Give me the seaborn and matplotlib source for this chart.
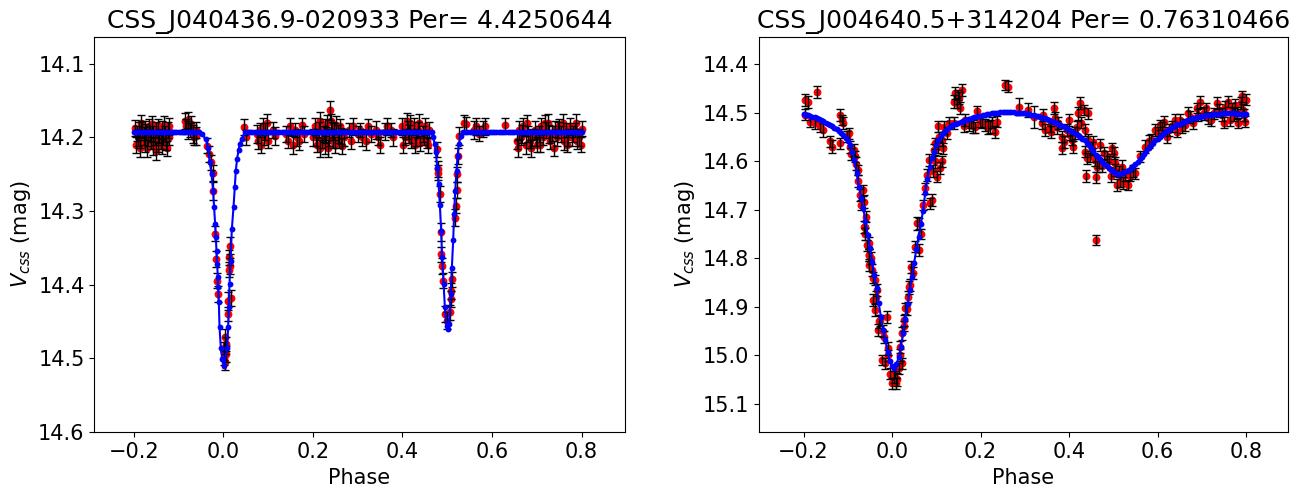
import numpy as np
import pandas as pd
import matplotlib
matplotlib.use("Agg")
import matplotlib.pyplot as plt
import seaborn as sns

# %%
# left star: CSS_J040436.9-020933 (detached eclipsing binary)

title1 = "CSS_J040436.9-020933 Per= 4.4250644"

phase1 = [
    -0.197, -0.193, -0.190, -0.188, -0.185, -0.182, -0.178, -0.175, -0.172, -0.168,
    -0.165, -0.162, -0.158, -0.156, -0.153, -0.150, -0.147, -0.144, -0.140, -0.137,
    -0.134, -0.130, -0.127, -0.124, -0.121,
    -0.086, -0.083, -0.080, -0.078, -0.075, -0.072, -0.068, -0.065, -0.062, -0.060,
    -0.0375, -0.032, -0.028, -0.024, -0.023, -0.0175, -0.017, -0.014, -0.0116,
    0.003, 0.0056, 0.002, 0.005, 0.001, 0.004,
    0.0145, 0.0123, 0.0145, 0.0123, 0.018, 0.011, 0.0107,
    0.047, 0.050, 0.075, 0.078, 0.082, 0.085, 0.088, 0.090, 0.093, 0.097,
    0.100, 0.112, 0.115, 0.140, 0.145, 0.150, 0.155, 0.160, 0.165, 0.170,
    0.175, 0.180, 0.200, 0.205, 0.210, 0.213, 0.217, 0.220, 0.224, 0.228,
    0.232, 0.236, 0.238, 0.242, 0.245, 0.250, 0.255, 0.260, 0.265, 0.270,
    0.280, 0.285, 0.290, 0.300, 0.305, 0.310, 0.318, 0.322, 0.330, 0.340,
    0.345, 0.350, 0.360, 0.365, 0.375, 0.378, 0.400, 0.405, 0.410, 0.415,
    0.420, 0.425, 0.430, 0.435, 0.440, 0.445, 0.450, 0.455, 0.460,
    0.4776, 0.480, 0.4805, 0.4836, 0.486, 0.487, 0.4888, 0.491, 0.4948, 0.4986,
    0.506, 0.5075, 0.5097, 0.508, 0.517, 0.5193, 0.521, 0.522, 0.523, 0.5254,
    0.538, 0.542, 0.560, 0.565, 0.570, 0.580, 0.585, 0.630, 0.655, 0.660,
    0.665, 0.670, 0.675, 0.680, 0.685, 0.690, 0.695, 0.700, 0.705, 0.710,
    0.715, 0.720, 0.725, 0.730, 0.735, 0.740, 0.745, 0.750, 0.755, 0.760,
    0.765, 0.770, 0.775, 0.780, 0.785, 0.790, 0.795, 0.800,
    -0.195, -0.187, -0.183, -0.176, -0.170, -0.163, -0.159, -0.151, -0.145, -0.138,
    -0.132, -0.126, -0.122,
    0.208, 0.215, 0.226, 0.230, 0.234, 0.240, 0.248, 0.252, 0.258, 0.262,
    0.402, 0.412, 0.418, 0.428, 0.438, 0.448, 0.458,
    0.658, 0.668, 0.678, 0.688, 0.698, 0.708, 0.718, 0.728, 0.738, 0.748,
    0.758, 0.768, 0.778, 0.788, 0.798,
]
mag1 = [
    14.187, 14.195, 14.200, 14.190, 14.205, 14.188, 14.198, 14.210, 14.193, 14.200,
    14.185, 14.205, 14.212, 14.195, 14.200, 14.190, 14.208, 14.198, 14.205, 14.190,
    14.200, 14.195, 14.205, 14.190, 14.200,
    14.178, 14.185, 14.190, 14.176, 14.190, 14.182, 14.195, 14.200, 14.190, 14.198,
    14.211, 14.222, 14.234, 14.248, 14.273, 14.331, 14.365, 14.395, 14.413,
    14.472, 14.481, 14.490, 14.495, 14.500, 14.505,
    14.347, 14.363, 14.375, 14.380, 14.418, 14.422, 14.440,
    14.186, 14.200, 14.195, 14.205, 14.190, 14.210, 14.185, 14.200, 14.192, 14.180,
    14.205, 14.190, 14.198, 14.195, 14.205, 14.185, 14.210, 14.190, 14.200, 14.205,
    14.183, 14.195, 14.200, 14.185, 14.210, 14.190, 14.178, 14.205, 14.195, 14.210,
    14.180, 14.200, 14.163, 14.190, 14.205, 14.210, 14.195, 14.185, 14.212, 14.200,
    14.190, 14.205, 14.185, 14.195, 14.190, 14.200, 14.205, 14.185, 14.195, 14.190,
    14.200, 14.210, 14.192, 14.185, 14.190, 14.200, 14.185, 14.200, 14.178, 14.195,
    14.205, 14.185, 14.200, 14.190, 14.208, 14.195, 14.185, 14.205, 14.190,
    14.216, 14.243, 14.248, 14.277, 14.329, 14.359, 14.375, 14.395, 14.440, 14.449,
    14.438, 14.409, 14.393, 14.420, 14.309, 14.293, 14.272, 14.250, 14.225, 14.198,
    14.180, 14.182, 14.190, 14.185, 14.195, 14.188, 14.185, 14.183, 14.205, 14.190,
    14.200, 14.185, 14.210, 14.195, 14.205, 14.200, 14.190, 14.210, 14.195, 14.185,
    14.200, 14.190, 14.180, 14.205, 14.195, 14.188, 14.200, 14.185, 14.195, 14.205,
    14.190, 14.200, 14.185, 14.195, 14.190, 14.205, 14.200, 14.188,
    14.210, 14.215, 14.180, 14.188, 14.215, 14.195, 14.182, 14.218, 14.185, 14.212,
    14.183, 14.215, 14.185,
    14.200, 14.215, 14.185, 14.197, 14.215, 14.178, 14.192, 14.183, 14.205, 14.198,
    14.210, 14.190, 14.180, 14.210, 14.180, 14.200, 14.210,
    14.215, 14.195, 14.180, 14.215, 14.200, 14.210, 14.180, 14.195, 14.215, 14.190,
    14.180, 14.210, 14.200, 14.180, 14.210,
]
err1 = [
    0.011, 0.010, 0.012, 0.011, 0.010, 0.011, 0.012, 0.010, 0.011, 0.012,
    0.010, 0.011, 0.012, 0.011, 0.010, 0.011, 0.012, 0.010, 0.011, 0.012,
    0.010, 0.011, 0.012, 0.011, 0.010,
    0.011, 0.010, 0.012, 0.011, 0.010, 0.011, 0.012, 0.010, 0.011, 0.012,
    0.010, 0.011, 0.010, 0.011, 0.012, 0.010, 0.011, 0.010, 0.011,
    0.011, 0.010, 0.012, 0.011, 0.010, 0.011,
    0.012, 0.010, 0.011, 0.010, 0.011, 0.012, 0.010,
    0.011, 0.010, 0.012, 0.011, 0.010, 0.011, 0.012, 0.010, 0.011, 0.012,
    0.010, 0.011, 0.012, 0.011, 0.010, 0.011, 0.012, 0.010, 0.011, 0.012,
    0.010, 0.011, 0.012, 0.011, 0.010, 0.011, 0.012, 0.010, 0.011, 0.012,
    0.010, 0.011, 0.013, 0.011, 0.010, 0.011, 0.012, 0.010, 0.011, 0.012,
    0.010, 0.011, 0.012, 0.011, 0.010, 0.011, 0.012, 0.010, 0.011, 0.012,
    0.010, 0.011, 0.012, 0.011, 0.010, 0.011, 0.012, 0.010, 0.011, 0.012,
    0.010, 0.011, 0.012, 0.011, 0.010, 0.011, 0.012, 0.010, 0.011,
    0.010, 0.011, 0.010, 0.011, 0.012, 0.010, 0.011, 0.010, 0.011, 0.012,
    0.010, 0.011, 0.010, 0.011, 0.012, 0.010, 0.011, 0.010, 0.011, 0.012,
    0.011, 0.010, 0.012, 0.011, 0.010, 0.011, 0.012, 0.010, 0.011, 0.012,
    0.010, 0.011, 0.012, 0.011, 0.010, 0.011, 0.012, 0.010, 0.011, 0.012,
    0.010, 0.011, 0.012, 0.011, 0.010, 0.011, 0.012, 0.010, 0.011, 0.012,
    0.010, 0.011, 0.012, 0.011, 0.010, 0.011, 0.012, 0.010,
    0.011, 0.012, 0.010, 0.011, 0.012, 0.010, 0.011, 0.012, 0.010, 0.011,
    0.012, 0.010, 0.011,
    0.011, 0.012, 0.010, 0.011, 0.012, 0.010, 0.011, 0.012, 0.010, 0.011,
    0.011, 0.012, 0.010, 0.011, 0.012, 0.010, 0.011,
    0.011, 0.012, 0.010, 0.011, 0.012, 0.010, 0.011, 0.012, 0.010, 0.011,
    0.012, 0.010, 0.011, 0.012, 0.010,
]

# model light curve: flat out of eclipse, sampled densely inside the eclipses
model1_base = 14.193
model1_flat_phase = [
    -0.200, -0.195, -0.190, -0.185, -0.180, -0.175, -0.170, -0.165, -0.160, -0.155,
    -0.150, -0.145, -0.140, -0.135, -0.130, -0.125, -0.120, -0.115, -0.110, -0.105,
    -0.100, -0.095, -0.090, -0.085, -0.080, -0.075, -0.070, -0.065, -0.060, -0.055,
    0.055, 0.060, 0.065, 0.070, 0.075, 0.080, 0.085, 0.090, 0.095, 0.100,
    0.105, 0.110, 0.115, 0.120, 0.125, 0.130, 0.135, 0.140, 0.145, 0.150,
    0.155, 0.160, 0.165, 0.170, 0.175, 0.180, 0.185, 0.190, 0.195, 0.200,
    0.205, 0.210, 0.215, 0.220, 0.225, 0.230, 0.235, 0.240, 0.245, 0.250,
    0.255, 0.260, 0.265, 0.270, 0.275, 0.280, 0.285, 0.290, 0.295, 0.300,
    0.305, 0.310, 0.315, 0.320, 0.325, 0.330, 0.335, 0.340, 0.345, 0.350,
    0.355, 0.360, 0.365, 0.370, 0.375, 0.380, 0.385, 0.390, 0.395, 0.400,
    0.405, 0.410, 0.415, 0.420, 0.425, 0.430, 0.435, 0.440, 0.445, 0.450,
    0.455, 0.460,
    0.540, 0.545, 0.550, 0.555, 0.560, 0.565, 0.570, 0.575, 0.580, 0.585,
    0.590, 0.595, 0.600, 0.605, 0.610, 0.615, 0.620, 0.625, 0.630, 0.635,
    0.640, 0.645, 0.650, 0.655, 0.660, 0.665, 0.670, 0.675, 0.680, 0.685,
    0.690, 0.695, 0.700, 0.705, 0.710, 0.715, 0.720, 0.725, 0.730, 0.735,
    0.740, 0.745, 0.750, 0.755, 0.760, 0.765, 0.770, 0.775, 0.780, 0.785,
    0.790, 0.795, 0.800,
]
model1_dip_phase = [
    -0.0487, -0.0391, -0.034, -0.0302, -0.0264, -0.0228, -0.0205, -0.0183, -0.0168, -0.0152,
    -0.0138, -0.0123, -0.0116, -0.0101, -0.0085, -0.0056, -0.0027, 0.0018, 0.0085, 0.0107,
    0.0123, 0.0138, 0.0161, 0.019, 0.0228, 0.0257, 0.0279, 0.0308, 0.034, 0.0369,
    0.0407, 0.048,
    0.465, 0.4686, 0.4724, 0.4747, 0.4776, 0.4807, 0.4836, 0.4865, 0.4887, 0.4918,
    0.4948, 0.4985, 0.5008, 0.5044, 0.5075, 0.5104, 0.5133, 0.5155, 0.5178, 0.5209,
    0.5231, 0.526, 0.5298, 0.5356,
]
model1_dip_mag = [
    14.195, 14.202, 14.214, 14.234, 14.250, 14.273, 14.295, 14.318, 14.336, 14.354,
    14.372, 14.390, 14.404, 14.424, 14.458, 14.486, 14.501, 14.511, 14.486, 14.458,
    14.431, 14.399, 14.368, 14.325, 14.294, 14.267, 14.245, 14.229, 14.217, 14.209,
    14.202, 14.193,
    14.193, 14.200, 14.209, 14.220, 14.241, 14.263, 14.292, 14.327, 14.363, 14.399,
    14.431, 14.456, 14.461, 14.454, 14.413, 14.377, 14.340, 14.304, 14.273, 14.245,
    14.225, 14.209, 14.198, 14.193,
]

# %%
# right star: CSS_J004640.5+314204 (contact binary)

title2 = "CSS_J004640.5+314204 Per= 0.76310466"

phase2 = [
    -0.196, -0.189, -0.170, -0.196, -0.185, -0.174, -0.162, -0.155, -0.140, -0.136,
    -0.117, -0.113, -0.110, -0.117, -0.102, -0.098, -0.094, -0.087, -0.083, -0.076,
    -0.072, -0.064, -0.064, -0.058, -0.053, -0.051,
    -0.061, -0.057, -0.053, -0.053, -0.045, -0.038, -0.034, -0.042, -0.038, -0.027,
    -0.012, -0.031, -0.019, -0.023, -0.015, -0.008, -0.004, 0.000, 0.009, 0.007,
    0.015, 0.022, 0.017, 0.022, 0.026, 0.030, 0.035, 0.041, 0.043, 0.052, 0.060,
    0.056, 0.060, 0.071, 0.075, 0.079, 0.083, 0.086, 0.090, 0.094, 0.098,
    0.101, 0.105, 0.109, 0.113, 0.116, 0.124, 0.139, 0.143, 0.150, 0.158,
    0.154, 0.139, 0.162, 0.173, 0.184, 0.192, 0.199, 0.211, 0.222, 0.233,
    0.237, 0.256, 0.263, 0.286, 0.308, 0.320, 0.342, 0.339, 0.346, 0.358,
    0.365, 0.369, 0.376, 0.384, 0.384, 0.395, 0.399, 0.407, 0.414, 0.421,
    0.425, 0.433, 0.444, 0.437, 0.444, 0.437, 0.440, 0.452, 0.459, 0.463,
    0.439, 0.461, 0.470, 0.478, 0.486, 0.497, 0.501, 0.504, 0.504, 0.512,
    0.508, 0.520, 0.527, 0.534, 0.550, 0.580, 0.595, 0.606, 0.614, 0.621,
    0.633, 0.644, 0.651, 0.663, 0.674, 0.689, 0.697, 0.704, 0.715, 0.727,
    0.734, 0.746, 0.753, 0.760, 0.764, 0.772, 0.776, 0.783, 0.791, 0.794,
    0.798, 0.800, 0.461,
    -0.092, -0.081, -0.077, -0.069, -0.066, -0.060, -0.047, -0.044, -0.036, -0.029,
    -0.021, -0.010, 0.004, 0.012, 0.019, 0.028, 0.033, 0.038, 0.047, 0.065,
    0.092, 0.097, 0.103, 0.107, 0.112, 0.118, 0.128, 0.146, 0.152, 0.166,
    0.178, 0.188, 0.204, 0.216, 0.226,
    0.360, 0.372, 0.388, 0.403, 0.410, 0.418, 0.428, 0.448, 0.455, 0.468,
    0.475, 0.490, 0.494, 0.515, 0.523, 0.538, 0.545,
    0.560, 0.572, 0.585, 0.600, 0.610, 0.625, 0.640, 0.655, 0.668, 0.680,
    0.692, 0.710, 0.720, 0.738, 0.750, 0.768, 0.780, 0.788, 0.796,
]
mag2 = [
    14.473, 14.477, 14.457, 14.504, 14.518, 14.521, 14.528, 14.535, 14.559, 14.570,
    14.504, 14.515, 14.521, 14.563, 14.549, 14.542, 14.570, 14.577, 14.590, 14.618,
    14.669, 14.683, 14.735, 14.714, 14.769, 14.793,
    14.735, 14.773, 14.793, 14.814, 14.824, 14.845, 14.866, 14.886, 14.907, 14.928,
    14.921, 14.948, 14.962, 15.010, 15.017, 14.986, 15.038, 15.058, 15.058, 15.034,
    15.027, 15.017, 14.983, 14.955, 14.928, 14.903, 14.879, 14.855, 14.818, 14.776, 14.728,
    14.728, 14.783, 14.690, 14.656, 14.628, 14.597, 14.687, 14.680, 14.577, 14.563,
    14.632, 14.528, 14.614, 14.556, 14.573, 14.542, 14.477, 14.459, 14.463, 14.453,
    14.490, 14.521, 14.528, 14.525, 14.528, 14.497, 14.518, 14.525, 14.528, 14.539,
    14.518, 14.442, 14.446, 14.487, 14.494, 14.508, 14.504, 14.521, 14.535, 14.528,
    14.490, 14.511, 14.521, 14.549, 14.573, 14.535, 14.515, 14.556, 14.542, 14.501,
    14.480, 14.494, 14.501, 14.535, 14.556, 14.580, 14.594, 14.573, 14.597, 14.611,
    14.630, 14.633, 14.566, 14.583, 14.590, 14.573, 14.583, 14.604, 14.618, 14.621,
    14.649, 14.611, 14.628, 14.649, 14.625, 14.559, 14.535, 14.525, 14.518, 14.549,
    14.528, 14.539, 14.515, 14.525, 14.508, 14.490, 14.477, 14.501, 14.511, 14.501,
    14.480, 14.504, 14.487, 14.477, 14.515, 14.504, 14.484, 14.521, 14.466, 14.494,
    14.518, 14.473, 14.762,
    14.585, 14.605, 14.640, 14.690, 14.660, 14.750, 14.800, 14.840, 14.880, 14.930,
    14.950, 15.000, 15.045, 15.050, 15.000, 14.940, 14.905, 14.860, 14.830, 14.750,
    14.620, 14.600, 14.570, 14.550, 14.600, 14.530, 14.520, 14.480, 14.470, 14.515,
    14.520, 14.530, 14.520, 14.530, 14.520,
    14.540, 14.530, 14.560, 14.545, 14.570, 14.530, 14.520, 14.590, 14.560, 14.600,
    14.610, 14.600, 14.630, 14.640, 14.645, 14.630, 14.620,
    14.590, 14.570, 14.555, 14.540, 14.530, 14.535, 14.515, 14.530, 14.500, 14.520,
    14.505, 14.490, 14.515, 14.495, 14.520, 14.490, 14.500, 14.480, 14.505,
]
err2 = [
    0.012, 0.012, 0.012, 0.011, 0.012, 0.013, 0.012, 0.014, 0.012, 0.013,
    0.012, 0.011, 0.013, 0.012, 0.012, 0.011, 0.012, 0.013, 0.012, 0.011,
    0.012, 0.013, 0.012, 0.011, 0.012, 0.013,
    0.012, 0.011, 0.012, 0.013, 0.012, 0.011, 0.012, 0.013, 0.012, 0.011,
    0.012, 0.013, 0.012, 0.011, 0.012, 0.013, 0.012, 0.011, 0.012, 0.013,
    0.012, 0.011, 0.012, 0.013, 0.012, 0.011, 0.012, 0.013, 0.012, 0.011, 0.012,
    0.013, 0.012, 0.011, 0.012, 0.013, 0.012, 0.011, 0.012, 0.013, 0.012,
    0.011, 0.012, 0.013, 0.012, 0.011, 0.012, 0.013, 0.012, 0.011, 0.012,
    0.013, 0.012, 0.011, 0.012, 0.013, 0.012, 0.011, 0.012, 0.013, 0.012,
    0.011, 0.010, 0.011, 0.018, 0.014, 0.023, 0.012, 0.013, 0.012, 0.011,
    0.012, 0.013, 0.012, 0.011, 0.012, 0.013, 0.012, 0.011, 0.012, 0.013,
    0.012, 0.011, 0.012, 0.013, 0.012, 0.011, 0.012, 0.013, 0.012, 0.011,
    0.012, 0.011, 0.012, 0.013, 0.012, 0.011, 0.012, 0.013, 0.012, 0.011,
    0.012, 0.013, 0.012, 0.011, 0.012, 0.013, 0.012, 0.011, 0.012, 0.013,
    0.012, 0.011, 0.012, 0.013, 0.012, 0.011, 0.012, 0.013, 0.012, 0.011,
    0.012, 0.013, 0.012, 0.011, 0.012, 0.013, 0.012, 0.011, 0.012, 0.013,
    0.012, 0.011, 0.010,
    0.012, 0.013, 0.012, 0.011, 0.012, 0.013, 0.012, 0.011, 0.012, 0.013,
    0.012, 0.011, 0.012, 0.013, 0.012, 0.011, 0.012, 0.013, 0.012, 0.011,
    0.012, 0.013, 0.012, 0.011, 0.012, 0.013, 0.012, 0.011, 0.012, 0.013,
    0.012, 0.011, 0.012, 0.013, 0.012,
    0.012, 0.013, 0.012, 0.011, 0.012, 0.013, 0.012, 0.011, 0.012, 0.013,
    0.012, 0.011, 0.012, 0.013, 0.012, 0.011, 0.012,
    0.012, 0.013, 0.012, 0.011, 0.012, 0.013, 0.012, 0.011, 0.012, 0.013,
    0.012, 0.011, 0.012, 0.013, 0.012, 0.011, 0.012, 0.013, 0.012,
]

model2_phase = [
    -0.200, -0.195, -0.190, -0.185, -0.180, -0.175, -0.170, -0.165, -0.160, -0.155,
    -0.150, -0.145, -0.140, -0.135, -0.130, -0.125, -0.120, -0.115, -0.110, -0.105,
    -0.100, -0.095, -0.090, -0.085, -0.080, -0.075, -0.070, -0.065, -0.060, -0.055,
    -0.050, -0.045, -0.040, -0.035, -0.030, -0.025, -0.020, -0.015, -0.010, -0.005,
    0.000, 0.005, 0.010, 0.015, 0.020, 0.025, 0.030, 0.035, 0.040, 0.045,
    0.050, 0.055, 0.060, 0.065, 0.070, 0.075, 0.080, 0.085, 0.090, 0.095,
    0.100, 0.105, 0.110, 0.115, 0.120, 0.125, 0.130, 0.135, 0.140, 0.145,
    0.150, 0.155, 0.160, 0.165, 0.170, 0.175, 0.180, 0.185, 0.190, 0.195,
    0.200, 0.205, 0.210, 0.215, 0.220, 0.225, 0.230, 0.235, 0.240, 0.245,
    0.250, 0.255, 0.260, 0.265, 0.270, 0.275, 0.280, 0.285, 0.290, 0.295,
    0.300, 0.305, 0.310, 0.315, 0.320, 0.325, 0.330, 0.335, 0.340, 0.345,
    0.350, 0.355, 0.360, 0.365, 0.370, 0.375, 0.380, 0.385, 0.390, 0.395,
    0.400, 0.405, 0.410, 0.415, 0.420, 0.425, 0.430, 0.435, 0.440, 0.445,
    0.450, 0.455, 0.460, 0.465, 0.470, 0.475, 0.480, 0.485, 0.490, 0.495,
    0.500, 0.505, 0.510, 0.515, 0.520, 0.525, 0.530, 0.535, 0.540, 0.545,
    0.550, 0.555, 0.560, 0.565, 0.570, 0.575, 0.580, 0.585, 0.590, 0.595,
    0.600, 0.605, 0.610, 0.615, 0.620, 0.625, 0.630, 0.635, 0.640, 0.645,
    0.650, 0.655, 0.660, 0.665, 0.670, 0.675, 0.680, 0.685, 0.690, 0.695,
    0.700, 0.705, 0.710, 0.715, 0.720, 0.725, 0.730, 0.735, 0.740, 0.745,
    0.750, 0.755, 0.760, 0.765, 0.770, 0.775, 0.780, 0.785, 0.790, 0.795,
    0.800,
]
model2_mag = [
    14.503, 14.504, 14.505, 14.506, 14.508, 14.509, 14.511, 14.513, 14.515, 14.517,
    14.520, 14.522, 14.525, 14.528, 14.531, 14.534, 14.538, 14.542, 14.546, 14.552,
    14.558, 14.566, 14.580, 14.598, 14.625, 14.652, 14.675, 14.697, 14.724, 14.753,
    14.778, 14.807, 14.835, 14.861, 14.893, 14.922, 14.948, 14.969, 14.993, 15.011,
    15.023, 15.026, 15.019, 15.004, 14.984, 14.954, 14.925, 14.894, 14.866, 14.838,
    14.809, 14.781, 14.756, 14.730, 14.702, 14.666, 14.636, 14.612, 14.594, 14.580,
    14.567, 14.557, 14.548, 14.542, 14.537, 14.533, 14.529, 14.526, 14.524, 14.522,
    14.520, 14.518, 14.517, 14.515, 14.514, 14.512, 14.511, 14.509, 14.508, 14.507,
    14.506, 14.505, 14.504, 14.503, 14.502, 14.501, 14.501, 14.500, 14.500, 14.499,
    14.499, 14.499, 14.499, 14.499, 14.499, 14.499, 14.500, 14.500, 14.500, 14.501,
    14.501, 14.502, 14.503, 14.504, 14.505, 14.506, 14.507, 14.508, 14.510, 14.511,
    14.513, 14.514, 14.516, 14.518, 14.520, 14.522, 14.525, 14.527, 14.530, 14.532,
    14.535, 14.537, 14.540, 14.543, 14.546, 14.549, 14.553, 14.557, 14.562, 14.567,
    14.572, 14.579, 14.586, 14.591, 14.596, 14.601, 14.606, 14.610, 14.614, 14.618,
    14.621, 14.624, 14.626, 14.626, 14.625, 14.623, 14.621, 14.618, 14.614, 14.610,
    14.606, 14.601, 14.596, 14.591, 14.585, 14.579, 14.573, 14.567, 14.562, 14.557,
    14.553, 14.549, 14.545, 14.541, 14.538, 14.535, 14.532, 14.529, 14.527, 14.524,
    14.522, 14.520, 14.518, 14.516, 14.514, 14.512, 14.511, 14.510, 14.509, 14.508,
    14.507, 14.506, 14.505, 14.504, 14.504, 14.503, 14.503, 14.502, 14.502, 14.501,
    14.501, 14.501, 14.501, 14.501, 14.501, 14.501, 14.502, 14.502, 14.502, 14.502,
    14.503,
]

# %%
# assemble data frames

obs1 = pd.DataFrame({"phase": phase1, "mag": mag1, "err": err1})
obs2 = pd.DataFrame({"phase": phase2, "mag": mag2, "err": err2})

model1 = pd.DataFrame({
    "phase": list(model1_flat_phase) + list(model1_dip_phase),
    "mag": [model1_base] * len(model1_flat_phase) + list(model1_dip_mag),
}).sort_values("phase")
model2 = pd.DataFrame({"phase": model2_phase, "mag": model2_mag})

# %%
# plot both light curves side by side

fig = plt.figure(figsize=(13.09, 4.93), dpi=100)
ax1 = fig.add_axes([0.0721, 0.1231, 0.405, 0.8024])
ax2 = fig.add_axes([0.5797, 0.1231, 0.4043, 0.8024])

panels = [
    (ax1, obs1, model1, title1, (-0.288, 0.896), (14.601, 14.063)),
    (ax2, obs2, model2, title2, (-0.301, 0.895), (15.159, 14.343)),
]

for ax, obs, model, title, xlim, ylim in panels:
    sns.scatterplot(data=obs, x="phase", y="mag", color="red", s=32,
                    linewidth=0, ax=ax, zorder=2)
    ax.errorbar(obs["phase"], obs["mag"], yerr=obs["err"], fmt="none",
                ecolor="black", elinewidth=1.0, capsize=3, capthick=1.0, zorder=3)
    sns.lineplot(data=model, x="phase", y="mag", color="blue", linewidth=1.5,
                 marker="o", markersize=4.2, markeredgewidth=0,
                 estimator=None, sort=False, ax=ax, zorder=4)

    ax.set_xlim(*xlim)
    ax.set_ylim(*ylim)
    ax.set_title(title, fontsize=18)
    ax.set_xlabel("Phase", fontsize=15)
    ax.set_ylabel(r"$V_{css}$ (mag)", fontsize=15)
    ax.tick_params(labelsize=15)

fig.savefig("out.png", dpi=100)
